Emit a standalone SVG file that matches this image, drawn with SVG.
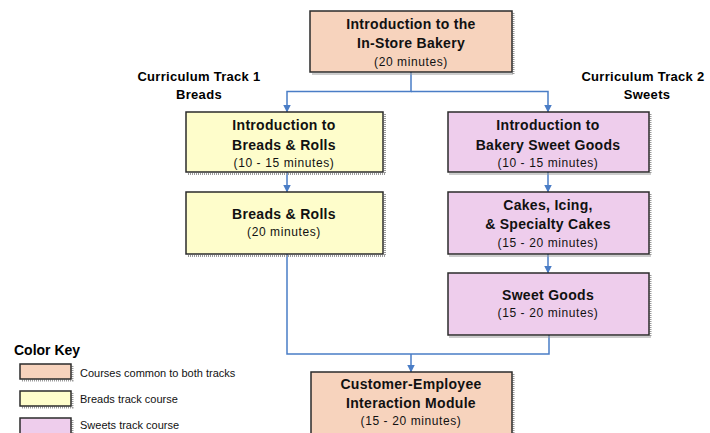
<svg xmlns="http://www.w3.org/2000/svg" width="710" height="433" viewBox="0 0 710 433">
<defs>
<style>
.box{stroke:#2b2b2b;stroke-width:1.5}
.sh{fill:none;stroke:#9a9a9a;stroke-width:2;stroke-dasharray:1 1}
.common{fill:#F7D3BD}
.bread{fill:#FEFDCB}
.sweet{fill:#EECDEC}
.t{font-family:"Liberation Sans",Arial,sans-serif;font-weight:bold;font-size:14px;fill:#111;text-anchor:middle;letter-spacing:0.3px}
.m{font-family:"Liberation Sans",Arial,sans-serif;font-size:12px;fill:#111;text-anchor:middle;letter-spacing:0.6px}
.h{font-family:"Liberation Sans",Arial,sans-serif;font-weight:bold;font-size:13px;fill:#000;text-anchor:middle;letter-spacing:0.3px}
.k{font-family:"Liberation Sans",Arial,sans-serif;font-size:11px;fill:#111}
.c{fill:none;stroke:#4A7DC6;stroke-width:1.5}
</style>
<marker id="ah" viewBox="0 0 8 8" refX="7.5" refY="4" markerWidth="8" markerHeight="8" markerUnits="userSpaceOnUse" orient="auto">
<path d="M0,0 L8,4 L0,8 z" fill="#4A7DC6"/>
</marker>
</defs>

<g id="connectors">
<path class="c" d="M411,72 V91.5 H287 V112" marker-end="url(#ah)"/>
<path class="c" d="M411,91.5 H548 V112" marker-end="url(#ah)"/>
<path class="c" d="M287,172 V192" marker-end="url(#ah)"/>
<path class="c" d="M548,172 V192" marker-end="url(#ah)"/>
<path class="c" d="M548,254 V273" marker-end="url(#ah)"/>
<path class="c" d="M287,254 V354 H549 V335"/>
<path class="c" d="M411,354 V372" marker-end="url(#ah)"/>
</g>

<g id="label-track1">
<text class="h" x="199" y="81">Curriculum Track 1</text>
<text class="h" x="199" y="99">Breads</text>
</g>
<g id="label-track2">
<text class="h" x="643" y="81">Curriculum Track 2</text>
<text class="h" x="647" y="99">Sweets</text>
</g>

<g id="intro-bakery">
<path class="sh" d="M513.5,13 V74 H312"/>
<rect class="box common" x="310" y="11" width="202" height="61"/>
<text class="t" x="411" y="29">Introduction to the</text>
<text class="t" x="411" y="48">In-Store Bakery</text>
<text class="m" x="411" y="66">(20 minutes)</text>
</g>

<g id="intro-breads">
<path class="sh" d="M385,114 V174 H187"/>
<rect class="box bread" x="186" y="112" width="197" height="60"/>
<text class="t" x="284" y="130">Introduction to</text>
<text class="t" x="284" y="150">Breads &amp; Rolls</text>
<text class="m" x="284" y="167">(10 - 15 minutes)</text>
</g>

<g id="breads-rolls">
<path class="sh" d="M385,194 V256 H187"/>
<rect class="box bread" x="186" y="192" width="197" height="62"/>
<text class="t" x="284" y="219">Breads &amp; Rolls</text>
<text class="m" x="284" y="236">(20  minutes)</text>
</g>

<g id="intro-sweets">
<path class="sh" d="M650.5,114 V174 H449"/>
<rect class="box sweet" x="448" y="112" width="201" height="60"/>
<text class="t" x="548" y="130">Introduction to</text>
<text class="t" x="548" y="150">Bakery Sweet Goods</text>
<text class="m" x="548" y="167">(10 - 15 minutes)</text>
</g>

<g id="cakes">
<path class="sh" d="M650.5,194 V256 H449"/>
<rect class="box sweet" x="448" y="192" width="201" height="62"/>
<text class="t" x="548" y="210">Cakes, Icing,</text>
<text class="t" x="548" y="229">&amp; Specialty Cakes</text>
<text class="m" x="548" y="247">(15 - 20 minutes)</text>
</g>

<g id="sweet-goods">
<path class="sh" d="M650.5,275 V337 H449"/>
<rect class="box sweet" x="448" y="273" width="201" height="62"/>
<text class="t" x="548" y="300">Sweet Goods</text>
<text class="m" x="548" y="317">(15 - 20 minutes)</text>
</g>

<g id="customer-employee">
<path class="sh" d="M513.5,374 V440"/>
<rect class="box common" x="311" y="372" width="201" height="70"/>
<text class="t" x="411" y="389">Customer-Employee</text>
<text class="t" x="411" y="408">Interaction Module</text>
<text class="m" x="411" y="425">(15 - 20 minutes)</text>
</g>

<g id="color-key">
<text x="14" y="355" style="font-family:'Liberation Sans',Arial,sans-serif;font-weight:bold;font-size:14px;fill:#000">Color Key</text>
<path class="sh" d="M72.5,366 V380.5 H22"/>
<rect class="box common" x="20" y="364" width="51" height="15"/>
<text class="k" x="80" y="376.5">Courses common to both tracks</text>
<path class="sh" d="M72.5,393 V407.5 H22"/>
<rect class="box bread" x="20" y="391" width="51" height="15"/>
<text class="k" x="80" y="403">Breads track course</text>
<path class="sh" d="M72.5,420 V434 H22"/>
<rect class="box sweet" x="20" y="418" width="51" height="17"/>
<text class="k" x="80" y="429">Sweets track course</text>
</g>
</svg>
